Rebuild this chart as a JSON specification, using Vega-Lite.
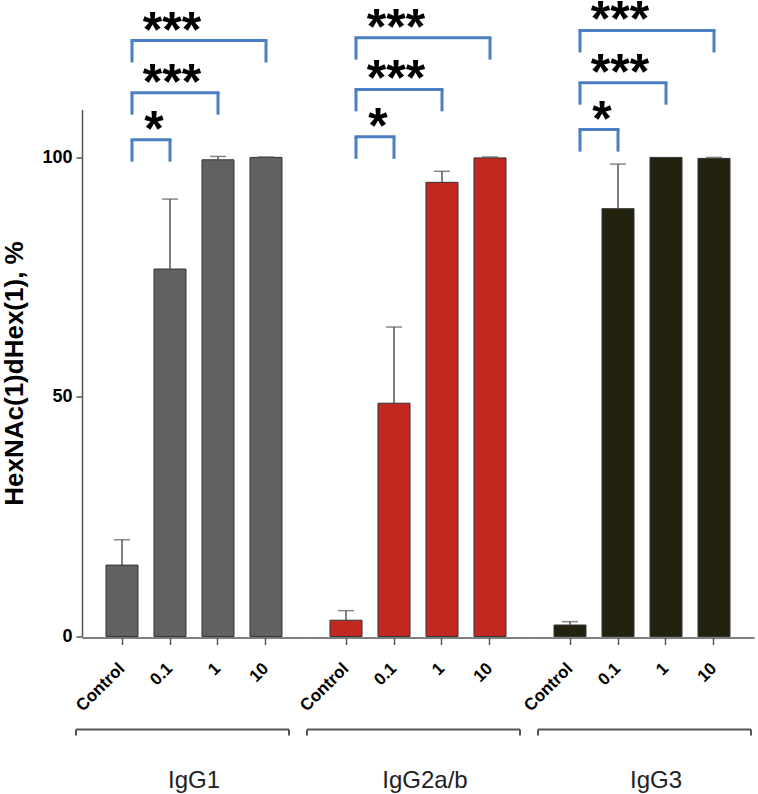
{
  "$schema": "https://vega.github.io/schema/vega-lite/v6.json",
  "padding": {"left": 1, "top": -4.5, "right": 3, "bottom": 0},
  "config": {"font": "Liberation Sans", "view": {"stroke": null}},
  "data": {"values": [
    {"kind": "bar", "group": "IgG1", "conc": "Control", "mean": 14.9, "upper": 20.2},
    {"kind": "bar", "group": "IgG1", "conc": "0.1", "mean": 76.7, "upper": 91.3},
    {"kind": "bar", "group": "IgG1", "conc": "1", "mean": 99.5, "upper": 100.2},
    {"kind": "bar", "group": "IgG1", "conc": "10", "mean": 100, "upper": 100.1},
    {"kind": "bar", "group": "IgG2a/b", "conc": "Control", "mean": 3.4, "upper": 5.4},
    {"kind": "bar", "group": "IgG2a/b", "conc": "0.1", "mean": 48.7, "upper": 64.6},
    {"kind": "bar", "group": "IgG2a/b", "conc": "1", "mean": 94.8, "upper": 97.1},
    {"kind": "bar", "group": "IgG2a/b", "conc": "10", "mean": 99.9, "upper": 100.1},
    {"kind": "bar", "group": "IgG3", "conc": "Control", "mean": 2.4, "upper": 3.1},
    {"kind": "bar", "group": "IgG3", "conc": "0.1", "mean": 89.3, "upper": 98.6},
    {"kind": "bar", "group": "IgG3", "conc": "1", "mean": 100, "upper": 100},
    {"kind": "bar", "group": "IgG3", "conc": "10", "mean": 99.8, "upper": 100},
    {"kind": "sig", "group": "IgG1", "from": "Control", "to": "0.1", "ytop": 103.7, "label": "*"},
    {"kind": "sig", "group": "IgG1", "from": "Control", "to": "1", "ytop": 113.5, "label": "***"},
    {"kind": "sig", "group": "IgG1", "from": "Control", "to": "10", "ytop": 124.4, "label": "***"},
    {"kind": "sig", "group": "IgG2a/b", "from": "Control", "to": "0.1", "ytop": 104.3, "label": "*"},
    {"kind": "sig", "group": "IgG2a/b", "from": "Control", "to": "1", "ytop": 114.2, "label": "***"},
    {"kind": "sig", "group": "IgG2a/b", "from": "Control", "to": "10", "ytop": 125.0, "label": "***"},
    {"kind": "sig", "group": "IgG3", "from": "Control", "to": "0.1", "ytop": 105.8, "label": "*"},
    {"kind": "sig", "group": "IgG3", "from": "Control", "to": "1", "ytop": 115.6, "label": "***"},
    {"kind": "sig", "group": "IgG3", "from": "Control", "to": "10", "ytop": 126.5, "label": "***"},
    {"kind": "grp", "group": "IgG1", "from": "Control", "to": "10"},
    {"kind": "grp", "group": "IgG2a/b", "from": "Control", "to": "10"},
    {"kind": "grp", "group": "IgG3", "from": "Control", "to": "10"}
  ]},
  "spacing": 14,
  "vconcat": [
    {
      "facet": {
        "column": {"field": "group", "type": "nominal", "sort": ["IgG1", "IgG2a/b", "IgG3"], "header": {"title": null, "labels": false}}
      },
      "spacing": 0,
      "spec": {
        "width": 224,
        "height": 635,
        "layer": [
          {
            "transform": [{"filter": "datum.kind === 'bar'"}],
            "mark": {"type": "bar", "stroke": "#333", "strokeWidth": 1},
            "encoding": {
              "x": {"field": "conc", "type": "nominal", "title": null,
                "scale": {"domain": ["Control", "0.1", "1", "10"], "paddingInner": 0.333, "paddingOuter": 0.5},
                "axis": {"labelAngle": -45, "labelAlign": "right", "labelBaseline": "middle", "labelFont": "Liberation Sans", "labelFontSize": 17, "labelFontWeight": "bold", "labelColor": "#000", "tickSize": 7, "tickColor": "#555", "tickWidth": 1.5, "domainColor": "#555", "domainWidth": 1.5, "labelPadding": 21}},
              "y": {"field": "mean", "type": "quantitative", "title": "HexNAc(1)dHex(1), %",
                "scale": {"domain": [0, 110], "range": [635, 108], "nice": false},
                "axis": {"values": [0, 50, 100], "labelFont": "Liberation Sans", "labelFontSize": 18, "labelFontWeight": "bold", "labelColor": "#000", "tickSize": 6, "tickColor": "#555", "tickWidth": 1.5, "domainColor": "#555", "domainWidth": 1.5, "grid": false, "titleFont": "Liberation Sans", "titleFontSize": 26, "titleFontWeight": "bold", "titleColor": "#000", "titlePadding": 14, "labelPadding": 4}},
              "color": {"field": "group", "type": "nominal", "scale": {"domain": ["IgG1", "IgG2a/b", "IgG3"], "range": ["#616161", "#c2281f", "#23220e"]}, "legend": null}
            }
          },
          {
            "transform": [{"filter": "datum.kind === 'bar' && datum.upper > datum.mean"}],
            "mark": {"type": "rule", "color": "#555", "strokeWidth": 1.5},
            "encoding": {
              "x": {"field": "conc", "type": "nominal", "title": null},
              "y": {"field": "mean", "type": "quantitative", "title": "HexNAc(1)dHex(1), %"},
              "y2": {"field": "upper"}
            }
          },
          {
            "transform": [{"filter": "datum.kind === 'bar' && datum.upper > datum.mean"}],
            "mark": {"type": "tick", "color": "#555", "size": 16, "thickness": 1.5},
            "encoding": {
              "x": {"field": "conc", "type": "nominal", "title": null},
              "y": {"field": "upper", "type": "quantitative", "title": "HexNAc(1)dHex(1), %"}
            }
          },
          {
            "transform": [{"filter": "datum.kind === 'sig'"}],
            "mark": {"type": "rule", "color": "#4a7fc4", "strokeWidth": 3, "xOffset": 10, "strokeCap": "square"},
            "encoding": {
              "x": {"field": "from", "type": "nominal", "title": null},
              "x2": {"field": "to"},
              "y": {"field": "ytop", "type": "quantitative", "title": "HexNAc(1)dHex(1), %"}
            }
          },
          {
            "transform": [{"filter": "datum.kind === 'sig'"}],
            "mark": {"type": "rule", "color": "#4a7fc4", "strokeWidth": 3, "xOffset": 10, "y2Offset": 22},
            "encoding": {
              "x": {"field": "from", "type": "nominal", "title": null},
              "y": {"field": "ytop", "type": "quantitative", "title": "HexNAc(1)dHex(1), %"},
              "y2": {"field": "ytop"}
            }
          },
          {
            "transform": [{"filter": "datum.kind === 'sig'"}],
            "mark": {"type": "rule", "color": "#4a7fc4", "strokeWidth": 3, "y2Offset": 22},
            "encoding": {
              "x": {"field": "to", "type": "nominal", "title": null},
              "y": {"field": "ytop", "type": "quantitative", "title": "HexNAc(1)dHex(1), %"},
              "y2": {"field": "ytop"}
            }
          },
          {
            "transform": [{"filter": "datum.kind === 'sig' && datum.label === '*'"}],
            "mark": {"type": "text", "font": "Liberation Sans", "fontSize": 50, "fontWeight": "bold", "color": "#000", "align": "center", "baseline": "alphabetic", "dy": 6, "xOffset": 32},
            "encoding": {
              "x": {"field": "from", "type": "nominal", "title": null},
              "y": {"field": "ytop", "type": "quantitative", "title": "HexNAc(1)dHex(1), %"},
              "text": {"field": "label"}
            }
          },
          {
            "transform": [{"filter": "datum.kind === 'sig' && datum.label === '***'"}, {"calculate": "'0.1'", "as": "at"}],
            "mark": {"type": "text", "font": "Liberation Sans", "fontSize": 50, "fontWeight": "bold", "color": "#000", "align": "center", "baseline": "alphabetic", "dy": 6, "xOffset": 2},
            "encoding": {
              "x": {"field": "at", "type": "nominal", "title": null},
              "y": {"field": "ytop", "type": "quantitative", "title": "HexNAc(1)dHex(1), %"},
              "text": {"field": "label"}
            }
          }
        ]
      }
    },
    {
      "transform": [{"filter": "datum.kind === 'grp'"}],
      "facet": {
        "column": {"field": "group", "type": "nominal", "sort": ["IgG1", "IgG2a/b", "IgG3"], "header": {"title": null, "labelOrient": "bottom", "labelFontSize": 24, "labelColor": "#222", "labelPadding": 9, "labelFont": "Liberation Sans"}}
      },
      "spacing": 0,
      "spec": {
        "width": 224,
        "height": 30,
        "layer": [
          {
            "mark": {"type": "rule", "color": "#555", "strokeWidth": 2, "xOffset": -46, "x2Offset": 23},
            "encoding": {
              "x": {"field": "from", "type": "nominal", "title": null, "axis": null,
                "scale": {"domain": ["Control", "0.1", "1", "10"], "paddingInner": 0.333, "paddingOuter": 0.5}},
              "x2": {"field": "to"},
              "y": {"datum": 1, "type": "quantitative", "scale": {"domain": [0, 1]}, "axis": null}
            }
          },
          {
            "mark": {"type": "rule", "color": "#555", "strokeWidth": 2, "xOffset": -46},
            "encoding": {
              "x": {"field": "from", "type": "nominal", "title": null},
              "y": {"datum": 1, "type": "quantitative"},
              "y2": {"datum": 0.8}
            }
          },
          {
            "mark": {"type": "rule", "color": "#555", "strokeWidth": 2, "xOffset": 23},
            "encoding": {
              "x": {"field": "to", "type": "nominal", "title": null},
              "y": {"datum": 1, "type": "quantitative"},
              "y2": {"datum": 0.8}
            }
          }
        ]
      }
    }
  ]
}
